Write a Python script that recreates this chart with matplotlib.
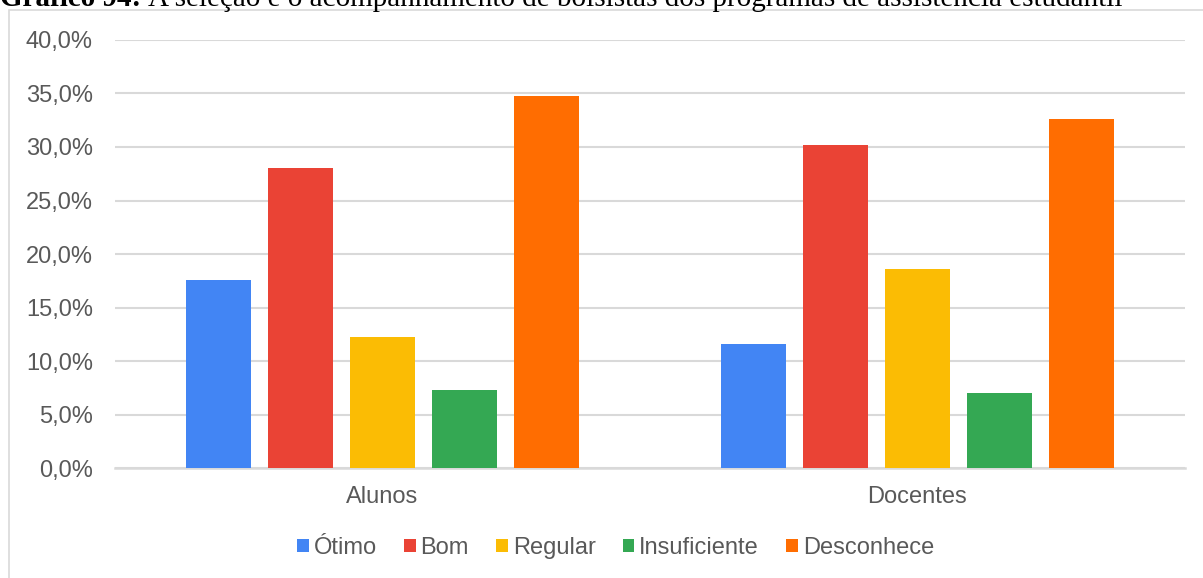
import numpy as np
import matplotlib.pyplot as plt
from matplotlib.patches import Rectangle
from matplotlib.ticker import FuncFormatter

# data
groups = ["Alunos", "Docentes"]
series = ["Ótimo", "Bom", "Regular", "Insuficiente", "Desconhece"]
otimo = [17.6, 11.6]
bom = [28.0, 30.2]
regular = [12.2, 18.6]
insuficiente = [7.3, 7.0]
desconhece = [34.8, 32.6]
values = [otimo, bom, regular, insuficiente, desconhece]
colors = ["#4285F4", "#EA4335", "#FBBC04", "#34A853", "#FF6D01"]

plt.rcParams['font.family'] = ['Liberation Sans', 'DejaVu Sans']

fig = plt.figure(figsize=(12.03, 5.78), dpi=100)
ax = fig.add_axes([0.0956, 0.1903, 0.8894, 0.7405])

x = np.arange(len(groups))
pitch = 0.153
width = 0.1215
for i, (name, vals, c) in enumerate(zip(series, values, colors)):
    ax.bar(x + (i - 2) * pitch, vals, width, color=c, label=name, zorder=3)

ax.set_xlim(-0.5, 1.5)
ax.set_ylim(0, 40)
ax.set_yticks(np.arange(0, 41, 5))
ax.yaxis.set_major_formatter(FuncFormatter(lambda v, p: ("%.1f%%" % v).replace(".", ",")))
ax.set_xticks(x)
ax.set_xticklabels(groups)
ax.tick_params(axis='both', length=0, labelsize=17, colors="#595959")
ax.tick_params(axis='x', pad=13)
ax.tick_params(axis='y', pad=16)
ax.grid(axis='y', color="#d9d9d9", linewidth=1.5, zorder=0)
for s in ["top", "right", "left"]:
    ax.spines[s].set_visible(False)
ax.spines["bottom"].set_color("#d9d9d9")
ax.spines["bottom"].set_linewidth(1.8)

leg = fig.legend(loc="center", bbox_to_anchor=(0.5117, 0.052), ncol=5, frameon=False,
                 fontsize=17, handlelength=0.5, handleheight=0.5, handletextpad=0.2,
                 columnspacing=1.15)
for t in leg.get_texts():
    t.set_color("#595959")

# chart border
fig.patches.append(Rectangle((9 / 1203, -0.05), 1.2, 1 - 10 / 578 + 0.05,
                             transform=fig.transFigure, fill=False,
                             edgecolor="#d9d9d9", linewidth=1.2))

# partially cut caption at the top
ybase = 1 - 6 / 578
t1 = fig.text(0.0, ybase, "Gráfico 94: ", fontsize=21, fontweight="bold",
              family="Liberation Serif", va="baseline", ha="left")
fig.canvas.draw()
bb = t1.get_window_extent(renderer=fig.canvas.get_renderer())
fig.text(bb.x1 / fig.bbox.width, ybase,
         "A seleção e o acompanhamento de bolsistas dos programas de assistência estudantil",
         fontsize=21, family="Liberation Serif", va="baseline", ha="left")

fig.savefig("out.png", dpi=100)
